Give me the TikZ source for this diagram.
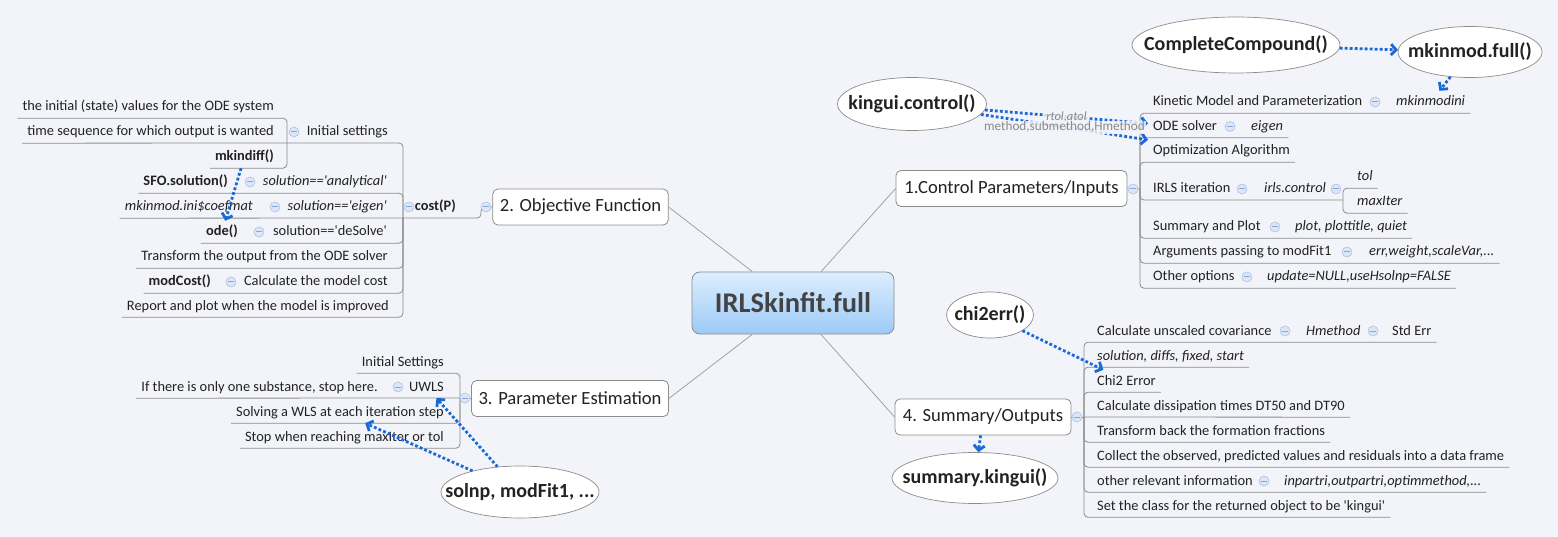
\documentclass[tikz,border=0pt]{standalone}
\usepackage{fontspec}
\setmainfont{Carlito}[Ligatures=TeXOff]
\usepackage{tikz}
\usetikzlibrary{arrows.meta,shapes.geometric}
\definecolor{bg}{HTML}{F3F4F9}
\definecolor{ink}{HTML}{222222}
\definecolor{rimgray}{HTML}{8C8C8C}
\definecolor{spokegray}{HTML}{A3A3A3}
\definecolor{relblue}{HTML}{1A6AD6}
\definecolor{notegray}{HTML}{8A8A8A}
\definecolor{foldfill}{HTML}{DCE6F6}
\definecolor{foldrim}{HTML}{A9C1E8}
\definecolor{foldbar}{HTML}{86A6DA}
\definecolor{roottop}{HTML}{DDEEFF}
\definecolor{rootbot}{HTML}{9CCAF6}
\newcommand{\leafsize}{\fontsize{14.4}{17}\selectfont}
\newcommand{\topicsize}{\fontsize{18.6}{22}\selectfont}
\newcommand{\callsize}{\fontsize{20}{24}\selectfont}
\newcommand{\callname}[1]{\makebox[0pt]{#1}}
\tikzstyle{root}=[draw=rimgray, line width=0.8pt, rounded corners=8pt,
                  top color=roottop, bottom color=rootbot, text=ink!85,
                  font=\bfseries\fontsize{28.5}{32}\selectfont,
                  minimum width=202pt, minimum height=62pt]
\tikzstyle{topic}=[draw=rimgray, line width=0.8pt, fill=white, rounded corners=5pt,
                   text=ink, font=\topicsize, minimum height=36pt, inner xsep=7pt]
\tikzstyle{leaf}=[text=ink, font=\leafsize, inner xsep=5pt, inner ysep=4pt,
                  text height=11pt, text depth=3pt]
\tikzstyle{leaf-l}=[leaf, anchor=east]
\tikzstyle{leaf-r}=[leaf, anchor=west]
\tikzstyle{opt-l}=[leaf-l, font=\leafsize\itshape]
\tikzstyle{opt-r}=[leaf-r, font=\leafsize\itshape]
\tikzstyle{fun-l}=[leaf-l, font=\leafsize\bfseries]
\tikzstyle{fold}=[circle, draw=foldrim, fill=foldfill, line width=0.6pt,
                  minimum size=10pt, inner sep=0pt,
                  path picture={\draw[foldbar, line width=1pt]
                    ([xshift=-2.6pt]path picture bounding box.center) --
                    ([xshift=2.6pt]path picture bounding box.center);}]
\tikzstyle{call}=[ellipse, draw=rimgray, line width=0.7pt, fill=white, text=ink,
                  font=\bfseries\callsize, inner sep=0pt]
\tikzstyle{spoke}=[draw=spokegray, line width=0.8pt]
\tikzstyle{tree}=[draw=rimgray, line width=0.8pt, rounded corners=4pt]
\tikzstyle{rel-arrow}=[draw=relblue, line width=2.8pt,
                       dash pattern=on 2.8pt off 2.2pt,
                       -{Straight Barb[length=5pt,width=11pt]}]
\tikzstyle{rel-label}=[text=notegray, font=\fontsize{13.2}{15}\selectfont,
                       fill=bg, fill opacity=0.85, text opacity=1, inner sep=1pt]

\begin{document}
\begin{tikzpicture}[x=1pt,y=-1pt]
\fill[bg] (0,0) rectangle (1558,537);
\useasboundingbox (0,0) rectangle (1558,537);

\node[root] (root) at (793,303) {IRLSkinfit.full};
\node[topic, minimum width=231pt] (ctl) at (1011.5,188.5) {1.Control Parameters/Inputs};
\node[topic, minimum width=175pt] (obj) at (580.5,207) {2. Objective Function};
\node[topic, minimum width=196pt] (est) at (570,398.5) {3. Parameter Estimation};
\node[topic, minimum width=176pt] (sum) at (983,417) {4. Summary/Outputs};

\node[leaf-r] (k1) at (1148,102) {Kinetic Model and Parameterization};
\node[opt-r] (k1v) at (1391,102) {mkinmodini};
\node[leaf-r] (k2) at (1148,126.5) {ODE solver};
\node[opt-r] (k2v) at (1246,126.5) {eigen};
\node[leaf-r] (k3) at (1148,151) {Optimization Algorithm};
\node[leaf-r] (k4) at (1148,189) {IRLS iteration};
\node[opt-r] (k4v) at (1259,189) {irls.control};
\node[opt-r] (tol) at (1352,177) {tol};
\node[opt-r] (maxit) at (1352,202) {maxIter};
\node[leaf-r] (k5) at (1148,227) {Summary and Plot};
\node[opt-r] (k5v) at (1290,227) {plot, plottitle, quiet};
\node[leaf-r] (k6) at (1148,252) {Arguments passing to modFit1};
\node[opt-r] (k6v) at (1364,252) {err,weight,scaleVar,...};
\node[leaf-r] (k7) at (1148,277) {Other options};
\node[opt-r] (k7v) at (1262,277) {update=NULL,useHsolnp=FALSE};
\coordinate (j1) at (1140,189);
\coordinate (jirls) at (1343,200);

\node[leaf-r] (s1) at (1092,331) {Calculate unscaled covariance};
\node[opt-r] (s1v) at (1301,331) {Hmethod};
\node[leaf-r] (s1w) at (1387,331) {Std Err};
\node[opt-r] (s2) at (1092,356) {solution, diffs, fixed, start};
\node[leaf-r] (s3) at (1092,381) {Chi2 Error};
\node[leaf-r] (s4) at (1092,406) {Calculate dissipation times DT50 and DT90};
\node[leaf-r] (s5) at (1092,431) {Transform back the formation fractions};
\node[leaf-r] (s6) at (1092,456) {Collect the observed, predicted values and residuals into a data frame};
\node[leaf-r] (s7) at (1092,481) {other relevant information};
\node[opt-r] (s7v) at (1279,481) {inpartri,outpartri,optimmethod,...};
\node[leaf-r] (s8) at (1092,506) {Set the class for the returned object to be 'kingui'};
\coordinate (j4) at (1084,417);

\node[fun-l] (cost) at (461,207) {cost(P)};
\node[leaf-l] (c1) at (393,132) {Initial settings};
\node[leaf-l] (ini1) at (279,107) {the initial (state) values for the ODE system};
\node[leaf-l] (ini2) at (279,132) {time sequence for which output is wanted};
\node[fun-l] (ini3) at (279,157) {mkindiff()};
\node[opt-l] (c2v) at (392,182) {solution=='analytical'};
\node[fun-l] (c2) at (233,182) {SFO.solution()};
\node[opt-l] (c3v) at (392,207) {solution=='eigen'};
\node[opt-l] (c3) at (258,207) {mkinmod.ini\$coefmat};
\node[leaf-l] (c4v) at (392,232) {solution=='deSolve'};
\node[fun-l] (c4) at (243,232) {ode()};
\node[leaf-l] (c5) at (393,257) {Transform the output from the ODE solver};
\node[leaf-l] (c6v) at (393,282) {Calculate the model cost};
\node[fun-l] (c6) at (216,282) {modCost()};
\node[leaf-l] (c7) at (394,306) {Report and plot when the model is improved};
\coordinate (j2) at (481,207);
\coordinate (cpj) at (403,218);
\coordinate (jini) at (287,143);

\node[leaf-l] (e1) at (449,362) {Initial Settings};
\node[leaf-l] (e2) at (449,387) {UWLS};
\node[leaf-l] (e2a) at (383,387) {If there is only one substance, stop here.};
\node[leaf-l] (e3) at (449,412) {Solving a WLS at each iteration step};
\node[leaf-l] (e4) at (449,437) {Stop when reaching maxIter or tol};
\coordinate (j3) at (460,398);

\draw[tree] (ctl.east) -- (j1);
\draw[tree] (j1) |- (k1v.south east);
\draw[tree] (j1) |- (k2v.south east);
\draw[tree] (j1) |- (k3.south east);
\draw[tree] (j1) |- (jirls);
\draw[tree] (jirls) |- (tol.south east);
\draw[tree] (jirls) |- (maxit.south east);
\draw[tree] (j1) |- (k5v.south east);
\draw[tree] (j1) |- (k6v.south east);
\draw[tree] (j1) |- (k7v.south east);

\draw[tree] (sum.east) -- (j4);
\draw[tree] (j4) |- (s1w.south east);
\draw[tree] (j4) |- (s2.south east);
\draw[tree] (j4) |- (s3.south east);
\draw[tree] (j4) -- (s4.south east);
\draw[tree] (j4) |- (s5.south east);
\draw[tree] (j4) |- (s6.south east);
\draw[tree] (j4) |- (s7v.south east);
\draw[tree] (j4) |- (s8.south east);

\draw[tree] (obj.west) -- (j2) |- (cpj);
\draw[tree] (cpj) |- (jini);
\draw[tree] (jini) |- (ini1.south west);
\draw[tree] (jini) -- (ini2.south west);
\draw[tree] (jini) |- (ini3.south west);
\draw[tree] (cpj) |- (c2.south west);
\draw[tree] (cpj) -- (c3.south west);
\draw[tree] (cpj) |- (c4.south west);
\draw[tree] (cpj) |- (c5.south west);
\draw[tree] (cpj) |- (c6.south west);
\draw[tree] (cpj) |- (c7.south west);

\draw[tree] (est.west) -- (j3);
\draw[tree] (j3) |- (e1.south west);
\draw[tree] (j3) -- (e2a.south west);
\draw[tree] (j3) |- (e3.south west);
\draw[tree] (j3) |- (e4.south west);

\node[fold] (fctl) at (1133,189) {};
\node[fold] (fk1) at (1375,102) {};
\node[fold] (fk2) at (1230,126.5) {};
\node[fold] (fk4) at (1242,189) {};
\node[fold] (fk4v) at (1336,189) {};
\node[fold] (fk5) at (1275,227) {};
\node[fold] (fk6) at (1347,252) {};
\node[fold] (fk7) at (1247,277) {};
\node[fold] (fsum) at (1077,417) {};
\node[fold] (fs1) at (1285,331) {};
\node[fold] (fs1v) at (1373,331) {};
\node[fold] (fs7) at (1264,481) {};
\node[fold] (fobj) at (486,207) {};
\node[fold] (fcost) at (409,207) {};
\node[fold] (fc1) at (294,132) {};
\node[fold] (fc2) at (250,182) {};
\node[fold] (fc3) at (275,207) {};
\node[fold] (fc4) at (259,232) {};
\node[fold] (fc6) at (231,282) {};
\node[fold] (fest) at (465,398) {};
\node[fold] (fe2) at (398,387) {};

\draw[spoke] (root) -- (ctl.west);
\draw[spoke] (root) -- (obj.east);
\draw[spoke] (root) -- (est.east);
\draw[spoke] (root) -- (sum.west);

\node[call, minimum width=149pt, minimum height=53pt] (kctl) at (912,104) {\callname{kingui.control()}};
\node[call, minimum width=208pt, minimum height=56pt] (cc) at (1236,45) {\callname{CompleteCompound()}};
\node[call, minimum width=144pt, minimum height=51pt] (mkf) at (1470,52) {\callname{mkinmod.full()}};
\node[call, minimum width=87pt, minimum height=46pt] (chi) at (990,315) {\callname{chi2err()}};
\node[call, minimum width=166pt, minimum height=51pt] (skg) at (975,478) {\callname{summary.kingui()}};
\node[call, minimum width=158pt, minimum height=52pt] (fit) at (520,492) {\callname{solnp, modFit1, ...}};

\draw[rel-arrow] (cc) -- (mkf);
\draw[rel-arrow] (mkf) -- (k1v);
\draw[rel-arrow] (kctl) -- node[rel-label, font=\fontsize{12.5}{15}\selectfont\itshape] {rtol,atol} (k2);
\draw[rel-arrow] (kctl) -- node[rel-label] {method,submethod,Hmethod} (k3);
\draw[rel-arrow] (ini3) -- (c4);
\draw[rel-arrow] (chi) -- (s3);
\draw[rel-arrow] (sum) -- (skg);
\draw[rel-arrow] (fit) -- (e2);
\draw[rel-arrow] (fit) -- (e3);

\end{tikzpicture}
\end{document}
